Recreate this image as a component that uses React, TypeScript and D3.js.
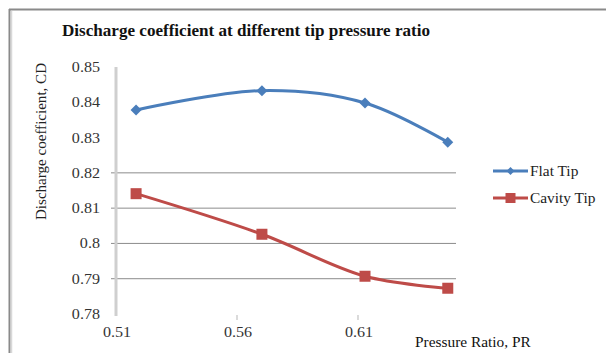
import React from "react";
import * as d3 from "d3";

const pressureRatio = [0.5183, 0.5703, 0.6129, 0.6471];
const flatTip = [0.8378, 0.8433, 0.8398, 0.8287];
const cavityTip = [0.8141, 0.8026, 0.7907, 0.7873];
const yTicks = [0.78, 0.79, 0.8, 0.81, 0.82, 0.83, 0.84, 0.85];
const yGrid = [0.79, 0.8, 0.81, 0.82];
const xTicks = [0.51, 0.56, 0.61];
const seriesNames = ["Flat Tip", "Cavity Tip"];

const W = 606;
const H = 353;
const BLUE = "#4a7ebb";
const RED = "#be4b48";
const FONT = "Liberation Serif, DejaVu Serif, serif";

export default function App() {
  const x = d3.scaleLinear().domain([0.51, 0.6505]).range([116, 456]);
  const y = d3.scaleLinear().domain([0.78, 0.85]).range([314, 67]);

  const line = d3
    .line<[number, number]>()
    .x((d) => x(d[0]))
    .y((d) => y(d[1]))
    .curve(d3.curveCatmullRom.alpha(0.5));

  const flatPts: [number, number][] = pressureRatio.map((p, i) => [p, flatTip[i]]);
  const cavPts: [number, number][] = pressureRatio.map((p, i) => [p, cavityTip[i]]);

  const diamond = (cx: number, cy: number, r: number) =>
    `M${cx},${cy - r}L${cx + r},${cy}L${cx},${cy + r}L${cx - r},${cy}Z`;

  const txt = { fontFamily: FONT } as React.CSSProperties;

  return (
    <svg
      width={W}
      height={H}
      style={{ position: "absolute", left: 0, top: 0, background: "#fff", fontFamily: FONT }}
    >
      {/* chart frame */}
      <line x1={9} y1={9.5} x2={W} y2={9.5} stroke="#8a8a8a" strokeWidth={2} />
      <line x1={9.5} y1={9} x2={9.5} y2={H} stroke="#8a8a8a" strokeWidth={2} />
      <line x1={11.5} y1={11} x2={11.5} y2={H} stroke="#d8d8d8" strokeWidth={1.5} />

      <text
        x={62}
        y={36}
        fontSize={16}
        fontWeight="bold"
        textLength={368}
        lengthAdjust="spacingAndGlyphs"
        fill="#111"
        style={txt}
      >
        Discharge coefficient at different tip pressure ratio
      </text>

      <text
        transform="translate(46,220) rotate(-90)"
        fontSize={14}
        textLength={157}
        lengthAdjust="spacingAndGlyphs"
        fill="#222"
        style={txt}
      >
        Discharge coefficient, CD
      </text>

      {/* horizontal gridlines */}
      {yGrid.map((v) => (
        <line key={v} x1={111} x2={456} y1={y(v)} y2={y(v)} stroke="#8c8c8c" strokeWidth={1} />
      ))}

      {/* y axis */}
      <line x1={116} x2={116} y1={y(0.85)} y2={y(0.78) + 2} stroke="#cfcfcf" strokeWidth={3} />

      {/* x tick marks */}
      {xTicks.slice(1).map((v) => (
        <line key={v} x1={x(v)} x2={x(v)} y1={315} y2={320} stroke="#cfcfcf" strokeWidth={1.5} />
      ))}

      {yTicks.map((v) => (
        <text
          key={v}
          transform={`translate(100,${y(v) + 5}) scale(1.15,1)`}
          textAnchor="end"
          fontSize={14}
          fill="#333"
          style={txt}
        >
          {d3.format("")(v)}
        </text>
      ))}

      {xTicks.map((v) => (
        <text
          key={v}
          transform={`translate(${x(v) + 1},${337}) scale(1.15,1)`}
          textAnchor="middle"
          fontSize={14}
          fill="#333"
          style={txt}
        >
          {v}
        </text>
      ))}

      <text transform="translate(415,347) scale(1.1,1)" fontSize={14} fill="#111" style={txt}>
        Pressure Ratio, PR
      </text>

      {/* series */}
      <path d={line(flatPts) || ""} fill="none" stroke={BLUE} strokeWidth={3} />
      {flatPts.map((d, i) => (
        <path key={i} d={diamond(x(d[0]), y(d[1]), 5.5)} fill={BLUE} />
      ))}

      <path d={line(cavPts) || ""} fill="none" stroke={RED} strokeWidth={3} />
      {cavPts.map((d, i) => (
        <rect key={i} x={x(d[0]) - 5.5} y={y(d[1]) - 5.5} width={11} height={11} fill={RED} />
      ))}

      {/* legend */}
      <g>
        <line x1={493} x2={528} y1={171} y2={171} stroke={BLUE} strokeWidth={3} />
        <path d={diamond(510.5, 171, 4)} fill={BLUE} />
        <text transform="translate(530,176) scale(1.1,1)" fontSize={14} fill="#222" style={txt}>
          {seriesNames[0]}
        </text>
        <line x1={493} x2={528} y1={198} y2={198} stroke={RED} strokeWidth={3} />
        <rect x={505.5} y={193} width={10} height={10} fill={RED} />
        <text transform="translate(530,203) scale(1.1,1)" fontSize={14} fill="#222" style={txt}>
          {seriesNames[1]}
        </text>
      </g>
    </svg>
  );
}
